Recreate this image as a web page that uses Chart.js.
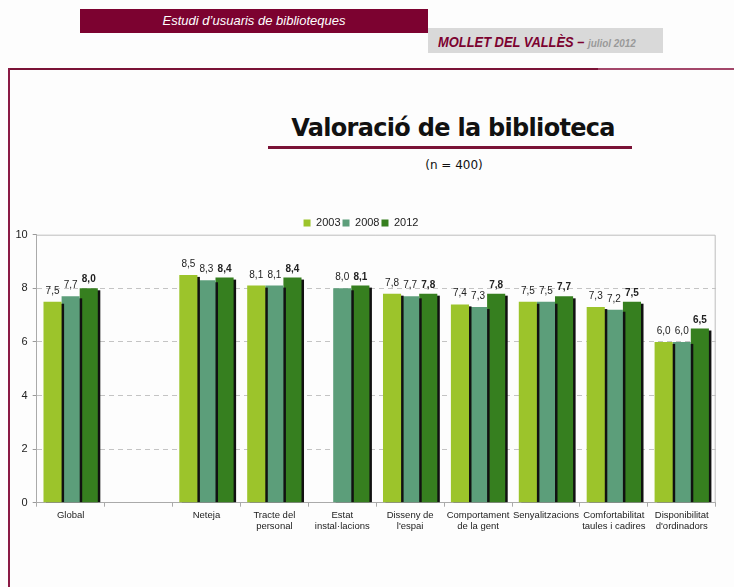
<!DOCTYPE html>
<html>
<head>
<meta charset="utf-8">
<script src="https://cdn.jsdelivr.net/npm/chart.js@4/dist/chart.umd.min.js"></script>
<style>
  body { margin: 0; background: #fdfdfd; width: 734px; height: 587px; position: relative; overflow: hidden; font-family: "Liberation Sans", Arial, sans-serif; }
  .band { position: absolute; left: 80px; top: 9px; width: 348px; height: 24px; background: #7c0230; color: #fff; font-style: italic; font-size: 13px; line-height: 24px; text-align: center; }
  .place { position: absolute; left: 428px; top: 28px; width: 235px; height: 25px; background: #d9d9d9; }
  .place div { position: absolute; left: 10px; top: 5px; white-space: nowrap; transform: scaleX(0.86); transform-origin: left center; font-style: italic; font-weight: bold; }
  .place .city { color: #7c0230; font-size: 15px; }
  .place .date { color: #9a9a9a; font-size: 11.5px; }
  .frameTop { position: absolute; left: 8px; top: 68px; width: 590px; height: 2px; background: #7a1236; }
  .frameTop2 { position: absolute; left: 598px; top: 68px; width: 136px; height: 2px; background: #a3476a; }
  .frameLeft { position: absolute; left: 8px; top: 68px; width: 2px; height: 519px; background: #8a1a44; }
  .title { position: absolute; left: 253px; top: 116px; width: 400px; text-align: center; font-family: "DejaVu Sans", sans-serif; font-weight: bold; font-size: 24px; line-height: 24px; letter-spacing: -0.7px; color: #111; }
  .rule { position: absolute; left: 268px; top: 146px; width: 364px; height: 3px; background: #7a1236; }
  .sub { position: absolute; left: 354px; top: 158px; width: 200px; text-align: center; font-family: "DejaVu Sans", sans-serif; font-size: 12px; line-height: 14px; color: #111; }
  .wrap { position: absolute; left: 0; top: 200px; width: 734px; height: 345px; }
</style>
</head>
<body>
<div class="band">Estudi d’usuaris de biblioteques</div>
<div class="place"><div><span class="city">MOLLET DEL VALLÈS – </span><span class="date">juliol 2012</span></div></div>
<div class="frameTop"></div>
<div class="frameTop2"></div>
<div class="frameLeft"></div>
<div class="title">Valoració de la biblioteca</div>
<div class="rule"></div>
<div class="sub">(n = 400)</div>
<div class="wrap"><canvas id="valoracio"></canvas></div>
<script>
// categories (the second one is an empty gap in the original)
var categories = [
    ['Global'], [''], ['Neteja'], ['Tracte del', 'personal'], ['Estat', 'instal·lacions'],
    ['Disseny de', "l'espai"], ['Comportament', 'de la gent'], ['Senyalitzacions'],
    ['Comfortabilitat', 'taules i cadires'], ['Disponibilitat', "d'ordinadors"]
];
var years = ['2003', '2008', '2012'];
var values2003 = [7.5, null, 8.5, 8.1, null, 7.8, 7.4, 7.5, 7.3, 6.0];
var values2008 = [7.7, null, 8.3, 8.1, 8.0, 7.7, 7.3, 7.5, 7.2, 6.0];
var values2012 = [8.0, null, 8.4, 8.4, 8.1, 7.8, 7.8, 7.7, 7.5, 6.5];
var yTicks = [0, 2, 4, 6, 8, 10];
var colors = ['#9cc42b', '#5c9e7a', '#367f1f'];

Chart.defaults.font.family = '"Liberation Sans", Arial, sans-serif';

// black drop shadow on the right of every bar
var barShadow = {
    id: 'barShadow',
    beforeDatasetDraw: function(chart, args) {
        var ctx = chart.ctx;
        var ds = chart.data.datasets[args.index];
        ctx.save();
        ctx.fillStyle = '#111';
        args.meta.data.forEach(function(bar, i) {
            if (ds.data[i] == null) return;
            var p = bar.getProps(['x', 'y', 'base', 'width'], true);
            ctx.fillRect(p.x - p.width / 2 + 2.5, p.y + 2, p.width, p.base - p.y - 2);
        });
        ctx.restore();
    }
};

// top and right border of the plot
var plotBorder = {
    id: 'plotBorder',
    beforeDatasetsDraw: function(chart) {
        var a = chart.chartArea, ctx = chart.ctx;
        ctx.save();
        ctx.strokeStyle = '#bdbdbd';
        ctx.lineWidth = 1;
        ctx.beginPath();
        ctx.moveTo(a.left, a.top + 0.5);
        ctx.lineTo(a.right - 0.5, a.top + 0.5);
        ctx.lineTo(a.right - 0.5, a.bottom);
        ctx.stroke();
        ctx.restore();
    }
};

// value labels, 2012 in bold
var valueLabels = {
    id: 'valueLabels',
    afterDatasetsDraw: function(chart) {
        var ctx = chart.ctx;
        ctx.save();
        ctx.textAlign = 'center';
        ctx.textBaseline = 'alphabetic';
        ctx.fillStyle = '#222';
        chart.data.datasets.forEach(function(ds, d) {
            ctx.font = (d == 2 ? 'bold ' : '') + '10px "Liberation Sans", Arial, sans-serif';
            chart.getDatasetMeta(d).data.forEach(function(bar, i) {
                var v = ds.data[i];
                if (v == null) return;
                ctx.fillText(v.toFixed(1).replace('.', ','), bar.x, bar.y - (d == 2 ? 6 : 8));
            });
        });
        ctx.restore();
    }
};

var chart = new Chart(document.getElementById('valoracio').getContext('2d'), {
    type: 'bar',
    data: {
        labels: categories,
        datasets: [
            { label: years[0], data: values2003, backgroundColor: colors[0] },
            { label: years[1], data: values2008, backgroundColor: colors[1] },
            { label: years[2], data: values2012, backgroundColor: colors[2] }
        ]
    },
    options: {
        responsive: true,
        maintainAspectRatio: false,
        animation: false,
        datasets: { bar: { barPercentage: 1, categoryPercentage: 0.8, borderWidth: 0 } },
        layout: { padding: { left: 6.3, right: 18.3, top: 15.4, bottom: 0 } },
        plugins: {
            legend: {
                position: 'top',
                maxHeight: 19.3,
                labels: { boxWidth: 7, boxHeight: 7, padding: 2, color: '#222', font: { size: 11 } }
            },
            tooltip: { enabled: false }
        },
        scales: {
            x: {
                grid: { drawOnChartArea: false, tickLength: 4, color: '#aaa' },
                border: { color: '#aaa' },
                ticks: { color: '#222', font: { size: 9.5 }, padding: 3, maxRotation: 0, autoSkip: false },
                afterFit: function(s) { s.height = 42.3; }
            },
            y: {
                min: 0,
                max: 10,
                afterBuildTicks: function(s) { s.ticks = yTicks.map(function(v) { return { value: v }; }); },
                grid: {
                    color: function(c) { return (c.tick.value == 0 || c.tick.value == 10) ? 'rgba(0,0,0,0)' : '#c4c4c4'; },
                    tickColor: '#999',
                    tickLength: 4
                },
                border: { color: '#aaa', dash: [5, 4] },
                ticks: { color: '#222', font: { size: 11 }, padding: 5 },
                afterFit: function(s) { s.width = 30.4; }
            }
        }
    },
    plugins: [barShadow, plotBorder, valueLabels]
});
</script>
</body>
</html>
